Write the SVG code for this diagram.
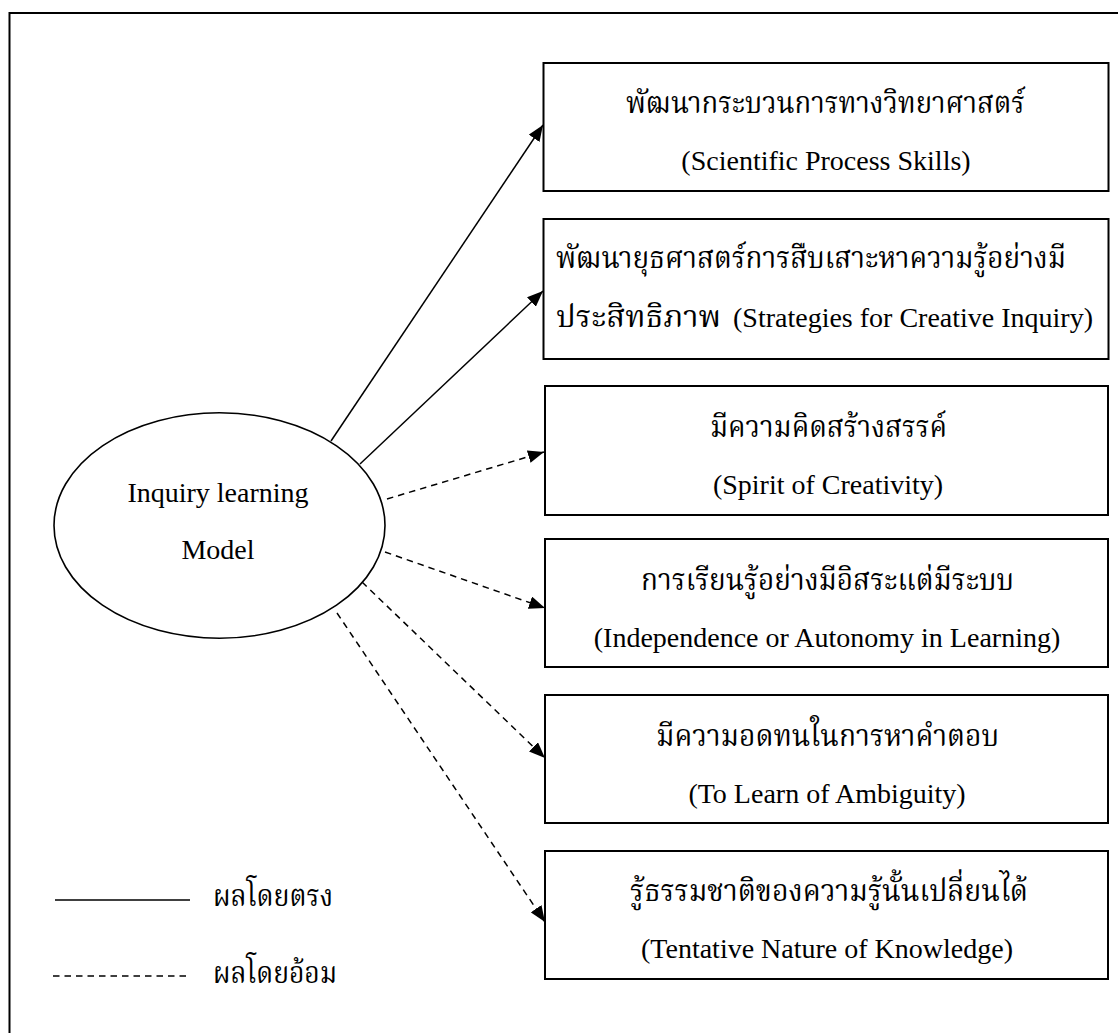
<svg xmlns="http://www.w3.org/2000/svg" width="1118" height="1033" viewBox="0 0 1118 1033">
  <style>
    .frame { fill: none; stroke: #000; stroke-width: 2; }
    .box { fill: #fff; stroke: #000; stroke-width: 2; }
    .oval { fill: #fff; stroke: #000; stroke-width: 1.6; }
    .direct { fill: none; stroke: #000; stroke-width: 1.5; }
    .indirect { fill: none; stroke: #000; stroke-width: 1.5; stroke-dasharray: 6.5 5; }
    .en { font-family: "Liberation Serif", "Times New Roman", serif; font-size: 28px; fill: #000; }
    .th { font-family: "Noto Serif Thai", "Noto Sans Thai Looped", "Noto Sans Thai", "Loma", "Garuda", "Liberation Serif", serif; font-size: 30px; fill: #000; }
  </style>
  <defs>
    <marker id="arrow" viewBox="0 0 16 13" refX="16" refY="6.5" markerWidth="16" markerHeight="13" markerUnits="userSpaceOnUse" orient="auto">
      <path d="M0,0 L16,6.5 L0,13 Z" fill="#000"/>
    </marker>
  </defs>

  <!-- outer border (runs off the right and bottom edges) -->
  <rect class="frame" x="9.5" y="13" width="1120" height="1030"/>

  <!-- connectors: solid = direct effect, dashed = indirect effect -->
  <g id="connectors">
    <line class="direct" x1="331" y1="441" x2="543" y2="125" marker-end="url(#arrow)"/>
    <line class="direct" x1="360" y1="464" x2="543" y2="291" marker-end="url(#arrow)"/>
    <line class="indirect" x1="387" y1="499" x2="544" y2="452" marker-end="url(#arrow)"/>
    <line class="indirect" x1="385" y1="552" x2="545" y2="608" marker-end="url(#arrow)"/>
    <line class="indirect" x1="362" y1="582" x2="545" y2="758" marker-end="url(#arrow)"/>
    <line class="indirect" x1="337" y1="613" x2="545" y2="922" marker-end="url(#arrow)"/>
  </g>

  <!-- central node -->
  <g id="model">
    <ellipse class="oval" cx="219.5" cy="525.5" rx="165.5" ry="112.7"/>
    <text class="en" x="218" y="502" text-anchor="middle">Inquiry learning</text>
    <text class="en" x="218" y="559" text-anchor="middle">Model</text>
  </g>

  <!-- outcome boxes -->
  <g id="process-skills">
    <rect class="box" x="543.5" y="63" width="565" height="128"/>
    <text class="th" x="626" y="113" textLength="399" lengthAdjust="spacingAndGlyphs">พัฒนากระบวนการทางวิทยาศาสตร์</text>
    <text class="en" x="826" y="170" text-anchor="middle">(Scientific Process Skills)</text>
  </g>

  <g id="creative-inquiry">
    <rect class="box" x="543.5" y="219" width="565" height="140"/>
    <text class="th" x="556" y="268" textLength="510" lengthAdjust="spacingAndGlyphs">พัฒนายุธศาสตร์การสืบเสาะหาความรู้อย่างมี</text>
    <text class="th" x="556" y="327" textLength="165" lengthAdjust="spacingAndGlyphs">ประสิทธิภาพ</text>
    <text class="en" x="733" y="327">(Strategies for Creative Inquiry)</text>
  </g>

  <g id="creativity">
    <rect class="box" x="545" y="386" width="563" height="129"/>
    <text class="th" x="710" y="437" textLength="237" lengthAdjust="spacingAndGlyphs">มีความคิดสร้างสรรค์</text>
    <text class="en" x="828" y="494" text-anchor="middle">(Spirit of Creativity)</text>
  </g>

  <g id="autonomy">
    <rect class="box" x="545" y="539" width="563" height="128"/>
    <text class="th" x="641" y="590" textLength="373" lengthAdjust="spacingAndGlyphs">การเรียนรู้อย่างมีอิสระแต่มีระบบ</text>
    <text class="en" x="827" y="647" text-anchor="middle">(Independence or Autonomy in Learning)</text>
  </g>

  <g id="ambiguity">
    <rect class="box" x="545" y="695" width="563" height="128"/>
    <text class="th" x="656" y="746" textLength="343" lengthAdjust="spacingAndGlyphs">มีความอดทนในการหาคำตอบ</text>
    <text class="en" x="827" y="803" text-anchor="middle">(To Learn of Ambiguity)</text>
  </g>

  <g id="tentative-knowledge">
    <rect class="box" x="545" y="851" width="563" height="128"/>
    <text class="th" x="630" y="901" textLength="398" lengthAdjust="spacingAndGlyphs">รู้ธรรมชาติของความรู้นั้นเปลี่ยนได้</text>
    <text class="en" x="827" y="958" text-anchor="middle">(Tentative Nature of Knowledge)</text>
  </g>

  <!-- legend -->
  <g id="legend">
    <line class="direct" x1="55" y1="900" x2="190" y2="900"/>
    <text class="th" x="213" y="906" textLength="120" lengthAdjust="spacingAndGlyphs">ผลโดยตรง</text>
    <line class="indirect" x1="53" y1="976" x2="190" y2="976"/>
    <text class="th" x="213" y="983" textLength="124" lengthAdjust="spacingAndGlyphs">ผลโดยอ้อม</text>
  </g>
</svg>
